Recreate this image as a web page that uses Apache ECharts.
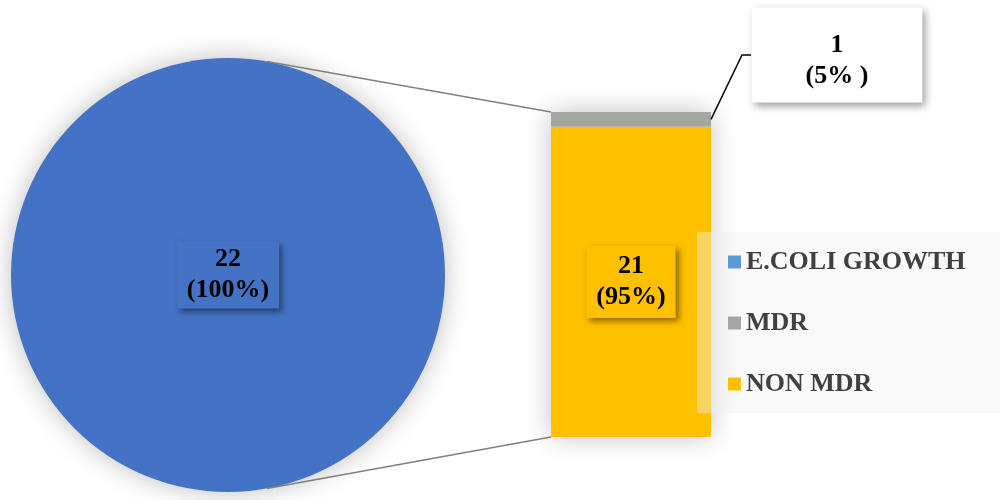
<!DOCTYPE html>
<html>
<head>
<meta charset="utf-8">
<script src="https://cdn.jsdelivr.net/npm/echarts@6/dist/echarts.min.js"></script>
<style>html,body{margin:0;padding:0;background:#fff}#c{width:1000px;height:500px}</style>
</head>
<body>
<div id="c"></div>
<script>
const pieNames = ['E.COLI GROWTH'];
const pieValues = [22];
const barCategories = ['E.COLI'];
const barNames = ['NON MDR', 'MDR'];
const barValues = [21, 1];
const legendNames = ['E.COLI GROWTH', 'MDR', 'NON MDR'];

const FONT = 'Liberation Serif';
const total = barValues.reduce((a, b) => a + b, 0);
const pct = v => Math.round(v / total * 100);

const G = { left: 551, top: 112, width: 160, height: 325 };
const PIE = { cx: 228, cy: 275, r: 217 };

const chart = echarts.init(document.getElementById('c'), null, { renderer: 'canvas' });

const labelBase = {
  fontFamily: FONT, fontWeight: 'bold', fontSize: 26, lineHeight: 31, color: '#000',
  shadowBlur: 6, shadowOffsetX: 3, shadowOffsetY: 3, shadowColor: 'rgba(0,0,0,0.45)'
};
const richText = { fontFamily: FONT, fontWeight: 'bold', fontSize: 26, lineHeight: 31, color: '#000' };

chart.setOption({
  animation: false,
  backgroundColor: '#fff',
  legend: {
    orient: 'vertical', left: 697, top: 232,
    padding: [15, 60, 14, 31],
    itemGap: 31, itemWidth: 13, itemHeight: 13,
    backgroundColor: 'rgba(240,240,240,0.4)',
    icon: 'rect', selectedMode: false,
    textStyle: { fontFamily: FONT, fontWeight: 'bold', fontSize: 26, lineHeight: 30, color: '#404040' },
    data: [
      { name: legendNames[0], itemStyle: { color: '#5B9BD5' } },
      { name: legendNames[1] },
      { name: legendNames[2] }
    ]
  },
  grid: { left: G.left, top: G.top, width: G.width, height: G.height },
  xAxis: { type: 'category', data: barCategories, show: false },
  yAxis: { type: 'value', min: 0, max: total, show: false },
  series: [
    {
      type: 'pie', center: [PIE.cx, PIE.cy], radius: PIE.r,
      startAngle: 90, silent: true,
      itemStyle: { color: '#4472C4', shadowBlur: 26, shadowColor: 'rgba(0,0,0,0.26)' },
      label: Object.assign({}, labelBase, {
        position: 'center', formatter: '{c}\n({d}%)',
        backgroundColor: '#4472C4', padding: [3, 10, 2, 10]
      }),
      labelLine: { show: false },
      data: pieNames.map((n, i) => ({ name: n, value: pieValues[i] }))
    },
    {
      type: 'bar', name: barNames[0], stack: 's', barWidth: '100%', silent: true,
      data: [barValues[0]],
      showBackground: true,
      backgroundStyle: { color: '#fff', shadowBlur: 24, shadowColor: 'rgba(0,0,0,0.24)' },
      itemStyle: { color: '#FFC000' },
      label: Object.assign({}, labelBase, {
        show: true, position: 'inside',
        formatter: p => p.value + '\n(' + pct(p.value) + '%)',
        backgroundColor: '#FFC000', padding: [5, 10, 5, 10]
      })
    },
    {
      type: 'bar', name: barNames[1], stack: 's', barWidth: '100%', silent: true,
      data: [barValues[1]],
      itemStyle: { color: '#A5A5A5' },
      label: Object.assign({}, labelBase, {
        show: true, position: 'inside',
        formatter: p => '{t| }\n{a|' + p.value + '}\n{a|(' + pct(p.value) + '% )}',
        rich: {
          t: { fontFamily: FONT, fontSize: 10, lineHeight: 12 },
          a: richText
        },
        backgroundColor: '#fff', padding: [10, 54, 11, 54],
        shadowBlur: 8, shadowColor: 'rgba(0,0,0,0.4)'
      }),
      labelLayout: { x: 837, y: 55, align: 'center', verticalAlign: 'middle' }
    }
  ]
});

const a = 10.3 * Math.PI / 180;
const pTop = [PIE.cx + PIE.r * Math.sin(a), PIE.cy - PIE.r * Math.cos(a)];
const pBot = [PIE.cx + PIE.r * Math.sin(a), PIE.cy + PIE.r * Math.cos(a)];
const yTop = chart.convertToPixel({ yAxisIndex: 0 }, total);
const yBot = chart.convertToPixel({ yAxisIndex: 0 }, 0);
const yMdr = chart.convertToPixel({ yAxisIndex: 0 }, barValues[0] + barValues[1] / 2);
const xRight = G.left + G.width;

chart.setOption({
  graphic: [
    { type: 'line', z: 10, shape: { x1: pTop[0], y1: pTop[1], x2: G.left, y2: yTop },
      style: { stroke: '#808080', lineWidth: 1.5 } },
    { type: 'line', z: 10, shape: { x1: pBot[0], y1: pBot[1], x2: G.left, y2: yBot },
      style: { stroke: '#808080', lineWidth: 1.5 } },
    { type: 'polyline', z: 10, shape: { points: [[xRight, yMdr], [742, 55], [751, 55]] },
      style: { stroke: '#000', lineWidth: 1.5, fill: null } }
  ]
});
</script>
</body>
</html>
